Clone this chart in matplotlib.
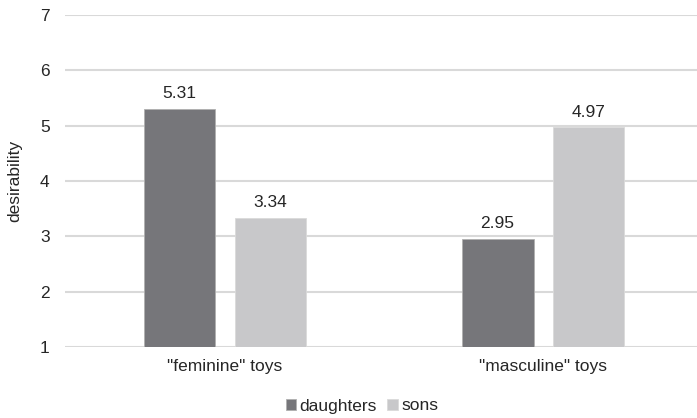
import matplotlib.pyplot as plt
import numpy as np

plt.rcParams['font.family'] = ['Liberation Sans', 'DejaVu Sans']

categories = ['"feminine" toys', '"masculine" toys']
daughters = [5.31, 2.95]
sons = [3.34, 4.97]

dark = '#76767a'
light = '#c8c8ca'
txt = '#262626'
fs = 12.5

fig = plt.figure(figsize=(6.97, 4.18), dpi=100)
ax = fig.add_axes([65 / 697, 1 - 347 / 418, 1 - 65 / 697, (347 - 15) / 418])

x = np.arange(len(categories))
w = 0.226
off = 0.143
base = 1

b1 = ax.bar(x - off, np.array(daughters) - base, w, bottom=base, color=dark,
            edgecolor='#b0b0b0', linewidth=0.6, label='daughters', zorder=3)
b2 = ax.bar(x + off, np.array(sons) - base, w, bottom=base, color=light,
            edgecolor='#dadada', linewidth=0.6, label='sons', zorder=3)

for bars, vals in ((b1, daughters), (b2, sons)):
    for r, v in zip(bars, vals):
        ax.text(r.get_x() + r.get_width() / 2, v + 0.14, f'{v:.2f}',
                ha='center', va='bottom', fontsize=fs, color=txt)

ax.set_xlim(-0.503, 1.484)
ax.set_ylim(1, 7)
ax.set_yticks(range(1, 8))
ax.set_xticks(x)
ax.set_xticklabels(categories)
ax.yaxis.grid(True, color='#d9d9d9', linewidth=1.5, zorder=0)
ax.set_axisbelow(True)
for s in ax.spines.values():
    s.set_visible(False)
ax.tick_params(length=0, labelsize=fs, colors=txt)
ax.tick_params(axis='y', pad=11)
ax.tick_params(axis='x', pad=9)

fig.text(15 / 697, 1 - 181 / 418, 'desirability', rotation=90, ha='center',
         va='center', fontsize=fs, color=txt)

fig.legend(handles=[b1, b2], loc='center', bbox_to_anchor=(362 / 697, 1 - 406 / 418),
           ncol=2, frameon=False, fontsize=fs, handlelength=0.6, handleheight=0.6,
           handletextpad=0.2, columnspacing=0.6, labelcolor=txt)

fig.savefig('out.png', dpi=100)
